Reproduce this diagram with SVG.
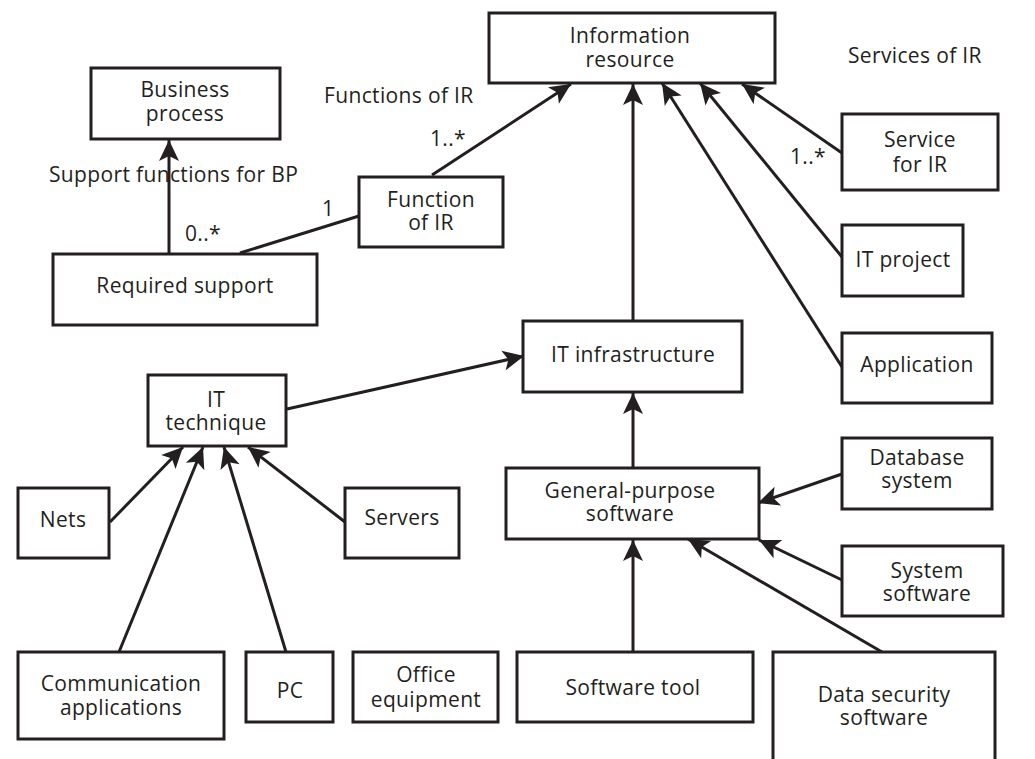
<svg xmlns="http://www.w3.org/2000/svg" width="1035" height="759" viewBox="0 0 1035 759">
<defs>
<marker id="arr" markerUnits="userSpaceOnUse" viewBox="-22 -11 23 22" refX="0" refY="0" markerWidth="23" markerHeight="22" orient="auto">
<path d="M0,0 L-21,-10 L-16,0 L-21,10 Z" fill="#231f20"/>
</marker>
<style>
rect{fill:#fff;stroke:#231f20;stroke-width:3}
text{font-family:"Open Sans","Liberation Sans",sans-serif;font-size:21px;letter-spacing:0.35px;fill:#231f20;text-anchor:middle}
.lbl{text-anchor:start}
#connectors line{stroke:#231f20;stroke-width:3}
.a{marker-end:url(#arr)}
</style>
</defs>
<rect x="0" y="0" width="1035" height="759" style="stroke:none;fill:#fff"/>
<g id="connectors">
<line class="a" x1="169" y1="254" x2="169" y2="140"/>
<line x1="240" y1="253" x2="359" y2="216"/>
<line class="a" x1="432" y1="175" x2="571" y2="84"/>
<line class="a" x1="633" y1="321" x2="633" y2="84"/>
<line class="a" x1="842" y1="367" x2="662" y2="83"/>
<line class="a" x1="842" y1="257" x2="700" y2="83"/>
<line class="a" x1="842" y1="153" x2="742" y2="84"/>
<line class="a" x1="287" y1="409" x2="524" y2="356"/>
<line class="a" x1="633" y1="468" x2="633" y2="393"/>
<line class="a" x1="110" y1="522" x2="183" y2="447"/>
<line class="a" x1="119" y1="652" x2="203" y2="447"/>
<line class="a" x1="286" y1="652" x2="224" y2="447"/>
<line class="a" x1="345" y1="522" x2="248" y2="447"/>
<line class="a" x1="842" y1="474" x2="758" y2="503"/>
<line class="a" x1="842" y1="580" x2="759" y2="540"/>
<line class="a" x1="633" y1="652" x2="633" y2="540"/>
<line class="a" x1="882" y1="652" x2="688" y2="539"/>
</g>
<g id="labels">
<text class="lbl" x="324" y="103">Functions of IR</text>
<text class="lbl" x="430" y="146">1..*</text>
<text class="lbl" x="49" y="182">Support functions for BP</text>
<text class="lbl" x="322" y="216">1</text>
<text class="lbl" x="185" y="241">0..*</text>
<text class="lbl" x="848" y="63">Services of IR</text>
<text class="lbl" x="790" y="164">1..*</text>
</g>
<g id="business-process"><rect x="91" y="68" width="189" height="71"/><text x="185" y="97">Business</text><text x="185" y="121">process</text></g>
<g id="function-of-ir"><rect x="359" y="177" width="144" height="70"/><text x="431" y="207">Function</text><text x="431" y="230">of IR</text></g>
<g id="required-support"><rect x="53" y="254" width="264" height="71"/><text x="185" y="293">Required support</text></g>
<g id="information-resource"><rect x="489" y="13" width="286" height="70"/><text x="630" y="43">Information</text><text x="630" y="67">resource</text></g>
<g id="service-for-ir"><rect x="842" y="114" width="156" height="76"/><text x="920" y="147">Service</text><text x="920" y="172">for IR</text></g>
<g id="it-project"><rect x="842" y="225" width="121" height="71"/><text x="903" y="267">IT project</text></g>
<g id="application"><rect x="842" y="333" width="150" height="70"/><text x="917" y="372">Application</text></g>
<g id="it-infrastructure"><rect x="523" y="321" width="219" height="71"/><text x="633" y="362">IT infrastructure</text></g>
<g id="it-technique"><rect x="148" y="375" width="138" height="71"/><text x="216" y="407">IT</text><text x="216" y="430">technique</text></g>
<g id="nets"><rect x="18" y="488" width="91" height="70"/><text x="63" y="527">Nets</text></g>
<g id="servers"><rect x="345" y="488" width="114" height="70"/><text x="402" y="525">Servers</text></g>
<g id="general-purpose-software"><rect x="506" y="468" width="253" height="71"/><text x="630" y="498">General-purpose</text><text x="630" y="521">software</text></g>
<g id="database-system"><rect x="842" y="438" width="150" height="71"/><text x="917" y="465">Database</text><text x="917" y="488">system</text></g>
<g id="system-software"><rect x="842" y="546" width="161" height="70"/><text x="927" y="578">System</text><text x="927" y="601">software</text></g>
<g id="communication-applications"><rect x="18" y="652" width="206" height="87"/><text x="121" y="691">Communication</text><text x="121" y="715">applications</text></g>
<g id="pc"><rect x="246" y="652" width="87" height="70"/><text x="290" y="698">PC</text></g>
<g id="office-equipment"><rect x="353" y="652" width="145" height="70"/><text x="426" y="682">Office</text><text x="426" y="707">equipment</text></g>
<g id="software-tool"><rect x="517" y="652" width="236" height="70"/><text x="633" y="695">Software tool</text></g>
<g id="data-security-software"><rect x="773" y="652" width="222" height="120"/><text x="884" y="702">Data security</text><text x="884" y="725">software</text></g>
</svg>
